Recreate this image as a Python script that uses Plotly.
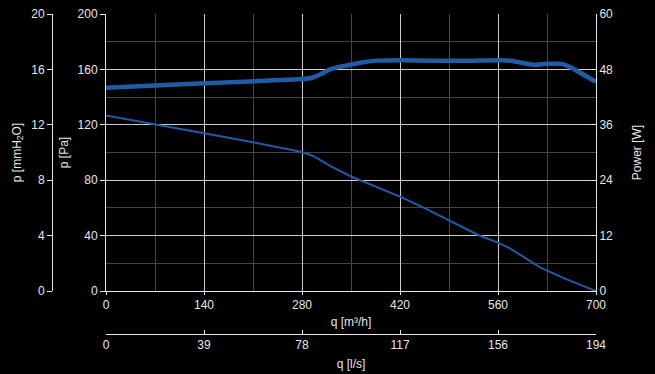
import plotly.graph_objects as go

# courbes
Q_P = [0, 70, 140, 210, 249, 280, 296, 310, 322, 351, 391, 420, 453, 491, 534, 560, 577, 620, 658, 700]
P_PA = [126.8, 120.6, 113.9, 107.4, 103.8, 100.4, 97.5, 93.4, 89.8, 82.5, 74.1, 68.1, 60.4, 50.8,
        39.9, 34.9, 30.8, 17.1, 8.4, 0]
Q_W = [0, 140, 280, 294, 306, 320, 335, 349, 365, 387, 420, 470, 520, 563, 581, 610, 630, 651, 663, 700]
P_W = [44.0, 45.0, 45.9, 46.2, 46.9, 48.0, 48.6, 49.0, 49.5, 49.9, 50.0, 49.9, 49.9, 50.0, 49.8,
       49.0, 49.2, 49.2, 48.5, 45.3]

# graduations
Q_TICKS = [0, 140, 280, 420, 560, 700]
LS_LABELS = ["0", "39", "78", "117", "156", "194"]

BLEU = "#1f5ba6"
TXT = "#e6e6e6"
GRID = "#cccccc"
GRID_MIN = "#444444"

W, H = 655, 374
X0, X1 = 106 / W, 596 / W
Y0 = (374 - 291) / 360

fig = go.Figure()
# trace invisible pour faire exister les axes secondaires (mmH2O, l/s)
fig.add_trace(go.Scatter(x=Q_P, y=[p / 10 for p in P_PA], mode="lines", opacity=0,
                         line=dict(width=0), hoverinfo="skip", xaxis="x2", yaxis="y2"))
fig.add_trace(go.Scatter(x=Q_P, y=P_PA, mode="lines", line=dict(color=BLEU, width=2),
                         name="p", xaxis="x", yaxis="y"))
fig.add_trace(go.Scatter(x=Q_W, y=P_W, mode="lines", line=dict(color=BLEU, width=4.5),
                         line_shape="spline", line_smoothing=0.4,
                         name="Power", xaxis="x", yaxis="y3"))

axe = dict(showline=True, linecolor=TXT, linewidth=1, zeroline=False,
           tickcolor=TXT, ticklen=5, automargin=False, tickfont=dict(size=12, color=TXT),
           title_font=dict(size=12, color=TXT))

fig.update_layout(
    width=W, height=H, showlegend=False,
    paper_bgcolor="black", plot_bgcolor="black",
    font=dict(family="Liberation Sans, Arial", size=12, color=TXT),
    margin=dict(l=0, r=0, t=14, b=0),
    xaxis=dict(axe, domain=[X0, X1], range=[0, 700], tickvals=Q_TICKS, ticks="outside", ticklen=3,
               showgrid=True, gridcolor=GRID, gridwidth=1,
               minor=dict(dtick=70, showgrid=True, gridcolor=GRID_MIN, ticks=""),
               title=dict(text="q [m³/h]", standoff=6), anchor="y"),
    xaxis2=dict(axe, overlaying="x", anchor="free", position=(374 - 334) / 360,
                range=[0, 700], tickvals=Q_TICKS, ticktext=LS_LABELS, ticks="inside", ticklen=4,
                showgrid=False, side="bottom", title=dict(text="q [l/s]", standoff=8)),
    yaxis=dict(axe, domain=[Y0, 1], range=[0, 200], dtick=40, ticks="outside",
               showgrid=True, gridcolor=GRID, gridwidth=1,
               minor=dict(dtick=20, showgrid=True, gridcolor=GRID_MIN, ticks=""),
               title=dict(text="p [Pa]", standoff=6), anchor="x"),
    yaxis2=dict(axe, overlaying="y", anchor="free", position=52 / W, side="left",
                range=[0, 20], dtick=4, ticks="outside", showgrid=False,
                title=dict(text="p [mmH<sub>2</sub>O]", standoff=6)),
    yaxis3=dict(axe, overlaying="y", anchor="x", side="right", range=[0, 60], dtick=12,
                ticks="inside", showgrid=False, title=dict(text="Power [W]", standoff=20)),
)

fig.write_html("out.html", config={"displayModeBar": False},
               post_script="document.body.style.margin='0';")
